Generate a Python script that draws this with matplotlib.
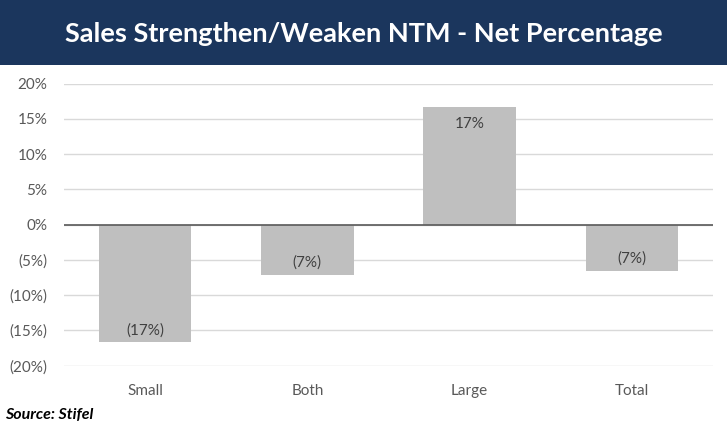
import matplotlib
matplotlib.use("Agg")
import matplotlib.pyplot as plt
from matplotlib.patches import Rectangle
import matplotlib.ticker as mticker

categories = ["Small", "Both", "Large", "Total"]
values = [-16.7, -7.1, 16.6, -6.6]
labels = ["(17%)", "(7%)", "17%", "(7%)"]
title = "Sales Strengthen/Weaken NTM - Net Percentage"
source = "Source: Stifel"

plt.rcParams['font.family'] = ['Lato', 'DejaVu Sans']

W, H = 727, 430
fig = plt.figure(figsize=(W/100, H/100), dpi=100)

# title band
fig.patches.append(Rectangle((0, 1 - 65/H), 1, 65/H, transform=fig.transFigure,
                             facecolor="#1B365D", edgecolor="none", zorder=0))
fig.text(0.5, 1 - 34/H, title, ha="center", va="center", color="white",
         fontsize=19.5, fontweight="bold")

ax = fig.add_axes([64/W, 1 - 365.7/H, (713-64)/W, (365.7-83.5)/H])
x = list(range(len(categories)))
ax.bar(x, values, width=0.57, color="#BFBFBF", zorder=2)
ax.set_xlim(-0.5, len(categories) - 0.5)
ax.set_ylim(-20, 20)
ax.set_yticks(range(-20, 21, 5))

def fmt(v, pos):
    v = int(round(v))
    return f"({abs(v)}%)" if v < 0 else f"{v}%"
ax.yaxis.set_major_formatter(mticker.FuncFormatter(fmt))
ax.set_xticks(x)
ax.set_xticklabels(categories)
ax.grid(axis="y", color="#D9D9D9", linewidth=1, zorder=0)
ax.axhline(0, color="#595959", linewidth=1.2, zorder=3)
for s in ax.spines.values():
    s.set_visible(False)
ax.tick_params(length=0, labelsize=11, colors="#595959")
ax.tick_params(axis="y", pad=12)
ax.tick_params(axis="x", pad=13.5)

for xi, v, lab in zip(x, values, labels):
    off = -2.4 if v > 0 else 1.75
    ax.text(xi, v + off, lab, ha="center", va="center", fontsize=11,
            color="#404040", zorder=4)

fig.text(5/W, 1 - 415/H, source, ha="left", va="center", fontsize=11.5,
         fontstyle="italic", fontweight="bold", color="black")

fig.savefig("out.png", dpi=100)
